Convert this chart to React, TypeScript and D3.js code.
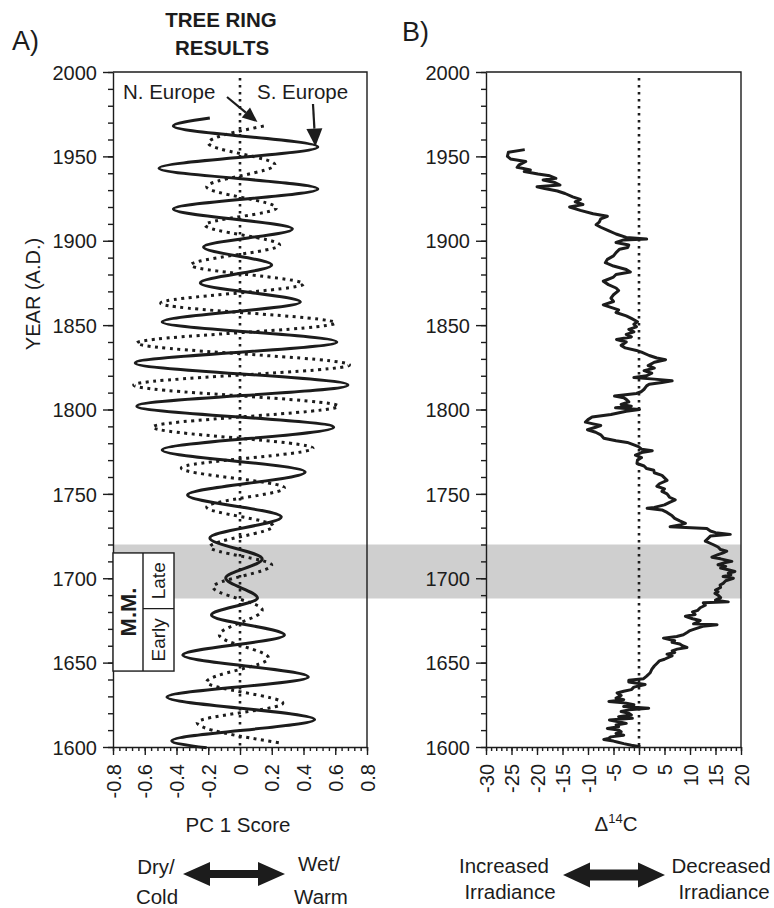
import { useEffect, useRef } from "react";
import * as d3 from "d3";

// axis ticks
const yearTicks = [1600, 1650, 1700, 1750, 1800, 1850, 1900, 1950, 2000];
const pcTicks = [-0.8, -0.6, -0.4, -0.2, 0, 0.2, 0.4, 0.6, 0.8];
const c14Ticks = [-30, -25, -20, -15, -10, -5, 0, 5, 10, 15, 20];

// S. Europe (solid) - turning points
const southYears = [1972.7, 1968, 1955.6, 1943, 1930.7, 1918.8, 1907, 1896.3, 1885.6, 1875, 1863.7, 1851.9, 1840, 1827.6, 1814.5, 1802, 1789.5, 1776, 1763, 1749.3, 1736.3, 1723.9, 1711.4, 1700.1, 1688.3, 1678.2, 1666.4, 1654.5, 1641.5, 1629.6, 1616.3, 1603.6, 1599.5];
const southScores = [-0.19, -0.42, 0.49, -0.51, 0.49, -0.42, 0.33, -0.23, 0.2, -0.25, 0.38, -0.49, 0.61, -0.66, 0.68, -0.65, 0.59, -0.49, 0.41, -0.33, 0.26, -0.19, 0.14, -0.09, 0.11, -0.18, 0.28, -0.36, 0.43, -0.46, 0.47, -0.43, -0.21];

// N. Europe (dotted)
const northYears = [1968, 1957.9, 1945, 1932, 1919.4, 1909.3, 1897.5, 1885.6, 1874.4, 1863, 1851.3, 1839.4, 1826.4, 1814.5, 1802, 1789.6, 1777, 1765.3, 1753.5, 1742.2, 1731, 1718.5, 1707.8, 1694.8, 1681.2, 1666.4, 1652.7, 1638.5, 1626, 1614.5, 1602.4];
const northScores = [0.15, -0.2, 0.22, -0.21, 0.23, -0.22, 0.25, -0.31, 0.4, -0.5, 0.6, -0.65, 0.69, -0.67, 0.62, -0.55, 0.46, -0.37, 0.28, -0.21, 0.21, -0.19, 0.2, -0.17, 0.14, -0.13, 0.18, -0.21, 0.27, -0.27, 0.25];

// delta 14C record
const c14Years = [1954, 1952.5, 1950, 1948.5, 1947, 1945, 1943.5, 1942, 1941, 1939.5, 1938.5, 1937, 1936, 1934.5, 1933, 1932, 1931, 1929.5, 1928, 1926, 1924.5, 1923, 1921.5, 1920, 1918, 1916, 1914.5, 1913, 1911, 1909.5, 1908, 1906, 1904, 1902, 1901, 1900.5, 1899, 1897.5, 1896, 1895, 1893, 1891, 1889, 1887, 1885, 1883, 1881.5, 1880, 1878.5, 1876, 1874, 1872, 1870.5, 1868, 1866, 1864, 1862, 1860.5, 1859, 1857.5, 1855.5, 1854, 1852, 1850.5, 1849, 1847.5, 1846, 1844.5, 1843, 1841.5, 1840, 1838, 1836.5, 1835, 1834, 1832, 1830.5, 1829.5, 1828, 1826, 1824.5, 1823, 1821.5, 1820, 1819, 1818, 1817, 1816, 1815, 1814, 1812, 1810.5, 1809.5, 1808, 1807, 1806, 1804.5, 1803, 1802, 1801, 1800, 1799, 1797, 1795.5, 1794, 1792.5, 1791.5, 1790.5, 1789.5, 1788, 1786.5, 1785, 1783, 1781.5, 1780.5, 1779, 1778, 1776.5, 1775.5, 1774.5, 1773, 1771.5, 1770, 1768, 1766.5, 1765, 1764, 1762.5, 1761, 1759.5, 1758, 1756, 1754.5, 1753, 1751.5, 1750, 1748, 1746.5, 1745, 1743.5, 1742, 1741.5, 1740.5, 1739, 1737, 1735.5, 1734, 1732.5, 1731.5, 1730.5, 1729.5, 1728, 1727, 1726, 1725, 1723.5, 1722, 1720, 1718.5, 1717, 1716, 1715, 1714, 1712.5, 1711.5, 1710, 1709, 1708, 1707, 1706, 1705, 1704, 1703, 1702, 1701, 1700, 1698.5, 1697, 1696, 1694.5, 1693, 1692, 1691, 1690, 1688.5, 1687, 1686, 1685.5, 1684, 1682.5, 1681, 1680, 1678.5, 1677.5, 1676, 1675, 1674, 1673, 1672.5, 1671.5, 1670, 1669, 1668, 1666.5, 1665.5, 1664.5, 1663, 1662, 1661, 1660, 1659, 1658, 1657, 1656, 1655, 1654, 1653.5, 1652, 1651, 1649.5, 1648, 1646, 1644, 1642, 1640.5, 1639.5, 1638.5, 1637, 1635.5, 1634, 1633, 1632, 1630.5, 1629, 1628, 1627, 1626, 1625, 1624, 1623, 1622, 1621, 1620, 1619, 1618, 1617, 1616, 1615, 1614, 1613, 1612, 1611, 1610, 1609, 1608, 1607, 1606, 1605, 1604.5, 1603.5, 1603, 1602, 1601, 1600.2];
const c14Values = [-22.4, -25.6, -25.8, -25.2, -22.2, -23.5, -23.9, -21.3, -22.5, -19.8, -17.5, -16.3, -18.8, -16.5, -15.5, -20, -18.5, -16, -14.5, -13, -11.5, -12.5, -11, -13.6, -11.5, -9, -6.2, -7.5, -7.8, -8.4, -7.5, -6, -4.5, -2.5, 1.5, -3, -4.5, -2, -2.2, -3.8, -4.5, -5, -6.2, -6.6, -5, -2.5, -1.7, -4.5, -5, -7, -6, -4.5, -4, -5, -5.5, -5, -7, -5.5, -4, -4.5, -2.5, -1.5, -0.3, -1, -0.5, -2, -1, -2.5, -1.5, -4.4, -2.5, -3.5, -2.7, -0.5, 0.5, 2, 3.5, 5.2, 3, 1.8, 3, 1, 2.5, 1.5, -1, 3, 6.5, 4.5, 2, 1.5, 1, 0.4, -0.5, -4.8, -3, -2.5, -2, -3.5, -1.5, -4.6, 0.1, -2.5, -5.5, -9.2, -10, -10.5, -9, -7.5, -8.5, -10.1, -8.5, -7.5, -6.9, -4.5, -2.3, -1, -0.1, 0.5, 2.6, 0.5, -0.7, 0.5, -0.3, -0.4, 1, 1.5, 2.9, 3, 4.5, 5, 5.5, 4, 3.5, 5, 4.5, 5.5, 6, 7.1, 6, 5, 3, 1.6, 4.5, 5.5, 6.5, 7, 8, 9.1, 8, 6.1, 13.3, 14, 15, 17.9, 14, 13.5, 13, 14.5, 15.5, 16, 17.2, 16.5, 15.5, 14.3, 16, 18.2, 16.5, 15.5, 17, 16, 17.5, 18.8, 17.5, 18, 16.5, 18.5, 17, 16.5, 15.9, 16, 15, 15.5, 14.9, 15.5, 16, 15, 17.5, 12.6, 13, 12, 11.5, 10.5, 11, 9.1, 10.5, 12, 11.5, 10.7, 15.3, 12.5, 11, 10, 9.5, 8.7, 7.4, 4.8, 7, 6.5, 8, 8.5, 9.4, 7.5, 6.5, 7, 5.5, 6.5, 6.1, 5, 4, 3.5, 3, 2.5, 2.2, 1.5, 0.9, -2, -2, 1.2, -1, -1.5, -3, -4.3, -3.5, -4.5, -3, -5.9, -2.5, -1, -3, 1.9, -2, -3.5, -2, -1.5, -4, -1.3, -5.8, -4, -2.5, -4.5, -4, -6.2, -4, -3.5, -4.5, -3, -5.5, -6, -6.9, -5, -4.3, -3, -1.5, 0.3];

// Maunder Minimum
const bandYears = [1688, 1720];
const mmYears = [1645, 1682, 1715];

export default function App() {
  const svgRef = useRef<SVGSVGElement>(null);

  useEffect(() => {
    const svg = d3.select(svgRef.current);
    svg.selectAll("*").remove();
    const font = "'Liberation Sans', Arial, Helvetica, sans-serif";
    const ink = "#1c1c1c";

    const y = d3.scaleLinear().domain([1600, 2000]).range([747, 72]);
    const xA = d3.scaleLinear().domain([-0.8, 0.8]).range([113, 367]);
    const xB = d3.scaleLinear().domain([-30, 20]).range([486, 741]);

    // grey band across both panels
    svg.append("rect")
      .attr("x", xA(-0.8))
      .attr("width", xB(20) - xA(-0.8))
      .attr("y", y(bandYears[1]))
      .attr("height", y(bandYears[0]) - y(bandYears[1]))
      .attr("fill", "#cfcfcf");

    const styleAxis = (g: any) => {
      g.attr("font-size", null).attr("font-family", null);
      g.selectAll("line,path").attr("stroke", ink).attr("stroke-width", 1.4);
      g.selectAll("text").attr("font-size", 20).attr("font-family", font).attr("fill", ink);
    };

    const panel = (x: any, ticks: number[], minor: number[]) => {
      const [x0, x1] = x.range();
      svg.append("path")
        .attr("d", `M${x0},${y(2000)}H${x1}V${y(1600)}`)
        .attr("fill", "none").attr("stroke", ink).attr("stroke-width", 1.4);

      const lm = svg.append("g").attr("transform", `translate(${x0},0)`)
        .call(d3.axisLeft(y).tickValues(d3.range(1600, 2001, 10)).tickSize(5).tickFormat(() => ""));
      lm.select(".domain").remove();
      styleAxis(lm);
      const l = svg.append("g").attr("transform", `translate(${x0},0)`)
        .call(d3.axisLeft(y).tickValues(yearTicks).tickSize(10).tickSizeOuter(0).tickPadding(6).tickFormat(d => String(d)));
      styleAxis(l);
      l.selectAll("text").attr("dy", "0.36em");

      const bm = svg.append("g").attr("transform", `translate(0,${y(1600)})`)
        .call(d3.axisBottom(x).tickValues(minor).tickSize(4).tickFormat(() => ""));
      bm.select(".domain").remove();
      styleAxis(bm);
      const b = svg.append("g").attr("transform", `translate(0,${y(1600)})`)
        .call(d3.axisBottom(x).tickValues(ticks).tickSize(8).tickSizeOuter(0).tickFormat(d => String(d)));
      styleAxis(b);
      b.selectAll("text")
        .attr("transform", "rotate(-90)")
        .attr("x", -17).attr("y", 0).attr("dy", "0.36em")
        .attr("text-anchor", "end");

      // zero reference
      svg.append("line")
        .attr("x1", x(0)).attr("x2", x(0))
        .attr("y1", 78).attr("y2", y(1600))
        .attr("stroke", ink).attr("stroke-width", 2.6)
        .attr("stroke-dasharray", "2.6 4.4");
    };

    panel(xA, pcTicks, d3.range(-0.8, 0.801, 0.04));
    panel(xB, c14Ticks, d3.range(-30, 20.01, 1));

    // tree ring curves
    const lineA = d3.line<[number, number]>()
      .x(d => xA(d[1]))
      .y(d => y(d[0]))
      .curve(d3.curveMonotoneY);
    svg.append("path")
      .datum(d3.zip(northYears, northScores) as [number, number][])
      .attr("d", lineA)
      .attr("fill", "none").attr("stroke", ink).attr("stroke-width", 3)
      .attr("stroke-dasharray", "3 4.5");
    svg.append("path")
      .datum(d3.zip(southYears, southScores) as [number, number][])
      .attr("d", lineA)
      .attr("fill", "none").attr("stroke", ink).attr("stroke-width", 3);

    // 14C curve
    const lineB = d3.line<[number, number]>()
      .x(d => xB(d[1]))
      .y(d => y(d[0]));
    svg.append("path")
      .datum(d3.zip(c14Years, c14Values) as [number, number][])
      .attr("d", lineB)
      .attr("fill", "none").attr("stroke", ink).attr("stroke-width", 3)
      .attr("stroke-linejoin", "round");

    // M.M. box
    const bx0 = xA(-0.8), bxm = 143, bx1 = 174;
    const yTop = y(mmYears[2]), ySplit = y(mmYears[1]), yBot = y(mmYears[0]);
    svg.append("rect").attr("x", bx0).attr("y", yTop).attr("width", bx1 - bx0).attr("height", yBot - yTop)
      .attr("fill", "white").attr("stroke", ink).attr("stroke-width", 1.4);
    svg.append("path").attr("d", `M${bxm},${yTop}V${yBot}M${bxm},${ySplit}H${bx1}`)
      .attr("stroke", ink).attr("stroke-width", 1.4);
    const vtext = (t: string, cx: number, cy: number, size: number, bold = false) =>
      svg.append("text")
        .attr("transform", `translate(${cx},${cy}) rotate(-90)`)
        .attr("text-anchor", "middle").attr("dy", "0.36em")
        .attr("font-family", font).attr("font-size", size)
        .attr("font-weight", bold ? "bold" : "normal")
        .attr("fill", ink).text(t);
    vtext("M.M.", (bx0 + bxm) / 2, (yTop + yBot) / 2, 22, true);
    vtext("Late", (bxm + bx1) / 2, (yTop + ySplit) / 2, 19);
    vtext("Early", (bxm + bx1) / 2, (ySplit + yBot) / 2, 19);

    // labels
    const text = (t: string, x: number, yy: number, size: number, anchor = "middle", bold = false) =>
      svg.append("text").attr("x", x).attr("y", yy)
        .attr("text-anchor", anchor).attr("font-family", font)
        .attr("font-size", size).attr("font-weight", bold ? "bold" : "normal")
        .attr("fill", ink).text(t);

    text("A)", 12, 50, 27, "start");
    text("B)", 402, 41, 27, "start");
    text("TREE RING", 221, 27, 20.5, "middle", true);
    text("RESULTS", 222, 55, 20.5, "middle", true);
    text("N. Europe", 123, 99, 20.5, "start");
    text("S. Europe", 257, 99, 20.5, "start");
    text("PC 1 Score", 238, 832, 20.5);
    vtext("YEAR (A.D.)", 33, 294, 20);

    const dl = svg.append("text").attr("x", 616).attr("y", 831).attr("text-anchor", "middle")
      .attr("font-family", font).attr("font-size", 20.5).attr("fill", ink);
    dl.append("tspan").text("Δ");
    dl.append("tspan").attr("dy", -8).attr("font-size", 13).text("14");
    dl.append("tspan").attr("dy", 8).text("C");

    text("Dry/", 156, 874, 20.5);
    text("Cold", 157, 904, 20.5);
    text("Wet/", 319, 871, 20.5);
    text("Warm", 321, 904, 20.5);
    text("Increased", 504, 873, 20.5);
    text("Irradiance", 510, 899, 20.5);
    text("Decreased", 721, 873, 20.5);
    text("Irradiance", 724, 899, 20.5);

    // double arrows
    const dbl = (x0: number, x1: number, cy: number, hl: number, hh: number, sh: number) =>
      svg.append("path")
        .attr("d", `M${x0},${cy}L${x0 + hl},${cy - hh}V${cy - sh}H${x1 - hl}V${cy - hh}L${x1},${cy}L${x1 - hl},${cy + hh}V${cy + sh}H${x0 + hl}V${cy + hh}Z`)
        .attr("fill", ink);
    dbl(183, 285, 874, 27, 12, 4);
    dbl(563, 665, 875, 27, 12.5, 5.5);

    // pointer arrows for series labels
    const pointer = (fx: number, fy: number, tx: number, ty: number, hl: number, hw: number) => {
      const a = Math.atan2(ty - fy, tx - fx);
      const bxp = tx - hl * Math.cos(a), byp = ty - hl * Math.sin(a);
      svg.append("line").attr("x1", fx).attr("y1", fy).attr("x2", bxp).attr("y2", byp)
        .attr("stroke", ink).attr("stroke-width", 2.2);
      const px = -Math.sin(a) * hw / 2, py = Math.cos(a) * hw / 2;
      svg.append("path")
        .attr("d", `M${tx},${ty}L${bxp + px},${byp + py}L${bxp - px},${byp - py}Z`)
        .attr("fill", ink);
    };
    pointer(227, 97, xA(0.11), y(1970.3), 15, 13);
    pointer(313, 104, xA(0.475), y(1955.8), 18, 16);
  }, []);

  return (
    <svg ref={svgRef} width={774} height={908}
      style={{ position: "absolute", left: 0, top: 0, background: "white" }} />
  );
}
